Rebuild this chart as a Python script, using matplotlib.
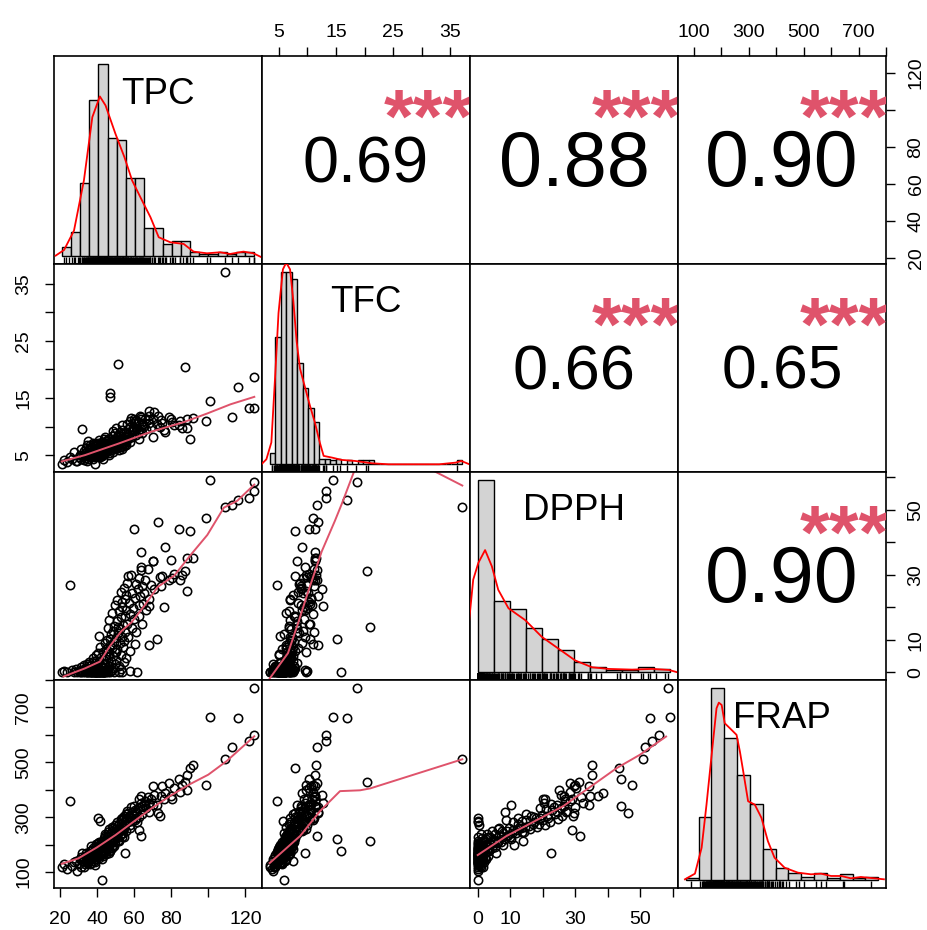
"""Correlation scatter-plot matrix of TPC, TFC, DPPH and FRAP (pairs-style layout)."""

import matplotlib

matplotlib.use("Agg")
import matplotlib.pyplot as plt
import numpy as np

NAMES = ["TPC", "TFC", "DPPH", "FRAP"]

TPC = [
    21.0, 22.5, 24.0, 25.5, 26.8, 27.5, 28.9, 29.5, 30.2, 30.8,
    31.5, 32.0, 32.4, 32.9, 33.3, 33.7, 34.0, 34.2, 34.6, 34.9,
    31.2, 33.0, 34.4, 35.1, 35.4, 35.6, 35.9, 36.2, 36.4, 36.7,
    36.9, 37.1, 37.3, 37.5, 37.8, 38.0, 38.2, 38.4, 38.6, 38.7,
    38.9, 39.1, 39.3, 39.5, 39.6, 39.8, 39.9, 35.3, 36.0, 36.6,
    37.6, 38.3, 39.0, 39.7, 37.0, 40.1, 40.2, 40.4, 40.5, 40.7,
    40.9, 41.0, 41.2, 41.3, 41.5, 41.6, 41.8, 42.0, 42.1, 42.3,
    42.5, 42.6, 42.8, 43.0, 43.1, 43.3, 43.4, 43.6, 43.8, 43.9,
    44.1, 44.2, 44.4, 44.6, 44.7, 44.9, 40.3, 41.9, 42.9, 43.7,
    44.5, 41.1, 43.2, 44.8, 45.1, 45.3, 45.5, 45.8, 46.0, 46.2,
    46.5, 46.7, 46.9, 47.0, 47.2, 47.4, 47.6, 47.9, 48.1, 48.3,
    48.6, 48.8, 49.0, 49.2, 49.5, 49.7, 49.9, 45.9, 46.4, 48.4,
    49.4, 50.1, 50.3, 50.6, 50.8, 51.0, 51.3, 51.5, 51.7, 51.9,
    52.2, 52.4, 52.7, 52.9, 53.1, 53.4, 53.6, 53.9, 54.1, 54.4,
    54.6, 54.9, 50.5, 52.0, 53.3, 54.7, 55.2, 55.5, 55.8, 56.1,
    56.4, 56.7, 57.0, 57.4, 57.7, 58.0, 58.5, 58.8, 59.1, 59.4,
    59.7, 55.9, 57.9, 60.2, 60.5, 60.9, 61.3, 61.7, 62.0, 62.4,
    62.7, 63.1, 63.5, 63.8, 64.2, 64.5, 64.9, 60.7, 62.9, 64.0,
    65.4, 66.0, 66.7, 67.3, 68.0, 68.3, 69.0, 71.0, 70.4, 70.4,
    72.4, 73.0, 73.8, 74.5, 67.8, 75.0, 76.3, 76.8, 79.0, 79.9,
    81.7, 84.3, 84.7, 87.5, 88.4, 88.4, 90.2, 91.6, 80.5, 86.0,
    99.0, 101.0, 109.0, 113.0, 116.0, 122.0, 124.8, 124.8, 53.5, 53.2,
    55.0,
]
TFC = [
    3.4, 4.1, 3.8, 4.6, 4.4, 5.6, 4.0, 3.9, 4.7, 5.1,
    4.3, 9.6, 4.9, 5.8, 4.5, 5.3, 6.2, 4.8, 5.5, 3.9,
    6.0, 4.2, 6.7, 5.0, 4.4, 6.1, 5.4, 4.7, 6.8, 5.2,
    5.9, 4.9, 6.4, 5.6, 7.2, 5.1, 6.0, 4.6, 5.7, 3.5,
    6.6, 5.3, 6.3, 5.0, 7.0, 5.8, 4.8, 7.5, 5.5, 6.4,
    4.3, 6.9, 5.6, 6.1, 5.0, 5.4, 6.3, 4.9, 7.1, 5.8,
    6.6, 5.1, 6.0, 7.6, 5.5, 6.2, 4.7, 6.8, 5.3, 6.5,
    5.9, 7.3, 5.0, 6.1, 6.9, 5.6, 4.4, 6.4, 7.8, 5.2,
    6.7, 5.8, 6.3, 5.4, 7.4, 6.0, 6.9, 5.7, 4.8, 6.6,
    8.2, 5.2, 6.2, 5.6, 6.4, 7.2, 5.7, 6.8, 6.1, 7.9,
    5.3, 6.9, 6.3, 15.8, 15.2, 7.4, 5.9, 6.6, 8.3, 6.2,
    7.0, 5.5, 6.7, 7.7, 6.0, 8.8, 6.4, 7.5, 5.0, 9.2,
    7.1, 7.3, 6.5, 8.1, 7.0, 6.2, 8.6, 20.9, 7.6, 6.8,
    9.0, 7.2, 6.4, 8.4, 7.8, 6.9, 9.4, 7.4, 8.0, 6.6,
    8.9, 7.7, 9.8, 5.9, 10.2, 7.1, 8.2, 9.1, 7.5, 10.4,
    8.7, 7.9, 9.6, 8.4, 10.9, 7.3, 11.5, 9.3, 8.1, 10.0,
    11.3, 6.8, 9.9, 9.4, 10.6, 8.6, 11.1, 9.8, 8.9, 10.8,
    9.2, 11.9, 11.3, 9.6, 10.2, 8.8, 10.5, 10.9, 7.9, 11.6,
    10.1, 11.4, 9.5, 11.2, 10.7, 11.8, 9.9, 12.6, 11.3, 8.1,
    10.4, 11.8, 10.0, 11.2, 12.8, 10.6, 9.4, 9.1, 11.7, 11.3,
    10.2, 10.3, 11.0, 20.5, 11.4, 9.7, 7.8, 11.5, 10.8, 9.8,
    11.0, 14.5, 37.1, 11.7, 17.0, 13.3, 13.3, 18.6, 6.0, 7.5,
    7.0,
]
DPPH = [
    0.0, 0.3, 0.0, 26.8, 0.6, 0.2, 1.1, 0.0, 0.4, 0.0,
    1.5, 0.8, 0.0, 2.1, 0.3, 0.0, 1.2, 0.6, 0.0, 2.6,
    0.0, 0.9, 0.1, 0.0, 1.8, 0.4, 3.1, 0.0, 0.7, 0.0,
    2.4, 0.2, 1.0, 0.0, 4.3, 0.5, 0.0, 1.7, 0.3, 0.0,
    2.9, 0.0, 0.8, 5.2, 0.1, 1.3, 0.0, 0.6, 0.0, 1.4,
    0.0, 3.6, 0.2, 0.0, 0.9, 0.0, 2.2, 0.4, 5.8, 0.0,
    1.1, 0.0, 3.4, 0.6, 0.0, 7.9, 0.2, 1.9, 0.0, 4.6,
    0.0, 0.3, 2.8, 0.0, 6.3, 0.5, 0.0, 3.9, 1.2, 0.0,
    9.1, 0.7, 2.5, 0.0, 5.1, 0.1, 0.0, 0.2, 1.6, 0.0,
    3.0, 11.2, 0.0, 7.2, 4.2, 9.8, 1.0, 13.5, 0.3, 6.7,
    2.0, 16.2, 8.4, 0.0, 10.1, 3.5, 11.9, 0.6, 7.6, 18.4,
    4.9, 1.4, 14.3, 9.3, 2.7, 20.6, 6.1, 0.0, 5.5, 12.8,
    0.2, 10.6, 3.8, 15.7, 22.4, 7.3, 12.1, 14.0, 1.9, 18.9,
    9.0, 13.3, 5.2, 24.8, 16.9, 11.0, 20.1, 7.8, 14.6, 3.1,
    26.1, 17.4, 6.4, 0.0, 21.7, 9.7, 12.4, 19.3, 23.9, 15.0,
    27.6, 29.6, 10.8, 21.2, 17.8, 6.5, 30.1, 24.5, 13.6, 19.9,
    44.2, 4.4, 0.5, 16.4, 22.9, 27.3, 12.5, 0.0, 25.8, 20.6,
    28.9, 23.6, 37.0, 32.3, 14.8, 26.7, 21.0, 8.6, 17.2, 31.5,
    24.3, 28.4, 19.1, 31.7, 22.6, 8.5, 27.0, 25.5, 34.3, 34.3,
    10.3, 46.3, 29.4, 26.5, 20.4, 29.6, 20.1, 38.5, 28.5, 34.5,
    30.4, 44.2, 28.5, 31.3, 35.3, 25.1, 43.4, 35.1, 29.0, 30.0,
    47.6, 59.3, 51.0, 51.5, 53.0, 53.7, 55.7, 58.5, 0.0, 1.0,
    22.7,
]
FRAP = [
    118, 128, 112, 358, 121, 135, 142, 105, 131, 146,
    120, 168, 139, 152, 128, 160, 143, 171, 134, 149,
    155, 117, 163, 150, 138, 166, 157, 144, 175, 132,
    169, 153, 181, 146, 188, 160, 139, 172, 155, 124,
    178, 164, 149, 192, 170, 158, 183, 141, 128, 195,
    162, 176, 136, 201, 167, 176, 189, 158, 205, 171,
    196, 152, 183, 211, 166, 199, 174, 187, 162, 208,
    70, 193, 178, 169, 215, 182, 157, 201, 224, 186,
    230, 173, 197, 191, 218, 165, 297, 285, 148, 207,
    239, 198, 180, 209, 203, 228, 186, 245, 192, 233,
    177, 257, 219, 176, 220, 206, 241, 189, 251, 266,
    214, 198, 247, 236, 221, 272, 209, 184, 168, 262,
    195, 244, 226, 268, 281, 232, 255, 213, 217, 274,
    249, 261, 238, 293, 277, 252, 289, 243, 266, 229,
    305, 283, 258, 214, 298, 262, 276, 296, 311, 289,
    322, 315, 281, 303, 298, 262, 336, 318, 287, 309,
    340, 248, 270, 304, 327, 318, 296, 283, 334, 368,
    255, 338, 376, 352, 311, 342, 329, 289, 301, 230,
    345, 358, 333, 372, 349, 320, 366, 381, 413, 346,
    346, 316, 306, 376, 352, 413, 368, 388, 425, 376,
    406, 439, 391, 430, 452, 398, 479, 492, 367, 418,
    419, 667, 511, 556, 661, 576, 598, 772, 227, 240,
    168,
]

# histogram breaks and relative bar heights (probability scale, arbitrary unit)
TPC_BREAKS = [20, 25, 30, 35, 40, 45, 50, 55, 60, 65, 70, 75, 80, 85, 90, 95, 100, 105, 110, 115, 120, 125]
TPC_BARS = [27, 72, 219, 469, 577, 355, 347, 234, 234, 84, 84, 37, 45, 45, 14, 7, 7, 14, 7, 14, 14]
TFC_BREAKS = [3, 4, 5, 6, 7, 8, 9, 10, 11, 12, 13, 14, 15, 16, 17, 18, 19, 20, 21, 22,
              23, 24, 25, 26, 27, 28, 29, 30, 31, 32, 33, 34, 35, 36, 37, 38]
TFC_BARS = [35, 380, 573, 573, 550, 300, 227, 167, 125, 17, 17, 13, 17, 0, 12, 0, 12, 12, 12, 0,
            0, 0, 0, 0, 0, 0, 0, 0, 0, 0, 0, 0, 0, 0, 13]
DPPH_BREAKS = [0, 5, 10, 15, 20, 25, 30, 35, 40, 45, 50, 55, 60]
DPPH_BARS = [572, 213, 187, 133, 100, 65, 32, 15, 8, 8, 17, 11]
FRAP_BREAKS = [50, 100, 150, 200, 250, 300, 350, 400, 450, 500, 550, 600, 650, 700, 750, 800]
FRAP_BARS = [8, 191, 580, 428, 316, 230, 93, 38, 23, 10, 23, 8, 18, 8, 10]

# kernel density curves, same height unit as the bars
TPC_DENS_X = [16.7, 21.3, 26.7, 32.1, 36.7, 40.8, 43.9, 49.3, 54.2, 58.4, 62.9, 68.4, 72.9, 79.2,
              86.5, 91.9, 99.2, 106.4, 111.8, 119.1, 124.5, 129.0]
TPC_DENS_Y = [2, 19, 77, 227, 417, 479, 452, 367, 297, 227, 177, 117, 57, 42, 37, 14, 9, 12, 7, 14, 9, -3]
TFC_DENS_X = [1.5, 2.4, 3.3, 4.0, 4.6, 5.4, 6.0, 6.7, 7.3, 7.9, 8.5, 9.4, 10.3, 11.2, 12.1, 12.8,
              14.3, 16.1, 18.5, 21.6, 24.6, 33.8, 36.8, 37.8, 39.3]
TFC_DENS_Y = [0, 15, 65, 265, 450, 580, 600, 580, 485, 365, 285, 230, 175, 125, 65, 25,
              20, 13, 10, 3, 0, 0, 5, 10, 0]
DPPH_DENS_X = [-2.7, -1.4, 0.2, 2.3, 4.4, 6.4, 9.6, 14.8, 20.0, 25.2, 30.4, 35.6, 40.8, 48.1, 54.4, 59.6, 62.2]
DPPH_DENS_Y = [150, 275, 325, 363, 315, 245, 190, 155, 105, 70, 35, 15, 10, 8, 10, 7, 0]
FRAP_DENS_X = [47, 86, 112, 131, 151, 170, 179, 190, 202, 222, 248, 261, 274, 293, 319, 345, 370,
               396, 435, 487, 538, 577, 616, 655, 693, 732, 784, 822]
FRAP_DENS_Y = [3, 20, 98, 228, 378, 518, 535, 528, 473, 458, 438, 388, 328, 238, 228, 188, 118,
               68, 38, 23, 18, 20, 13, 13, 6, 10, 6, 3]

# smoothed (lowess) lines in the lower panels
SMOOTH_TPC_TFC_X = [21, 33.5, 51.4, 69.2, 87, 99.5, 112, 124.8]
SMOOTH_TPC_TFC_Y = [3.9, 5.0, 7.0, 9.1, 10.8, 12.3, 13.9, 15.2]
SMOOTH_TPC_DPPH_X = [22, 33.5, 41.6, 46.9, 53.2, 58.5, 65.6, 72.8, 81.7, 90.6, 99.5, 108.4, 115.6, 124.8]
SMOOTH_TPC_DPPH_Y = [-1.3, 1.2, 3.3, 8.0, 12.7, 15.3, 20.5, 26.3, 29.8, 36.2, 42.3, 50.7, 52.8, 57.8]
SMOOTH_TFC_DPPH_X = [3.4, 6.6, 8.4, 10.1, 12.5, 14.8, 16.0, 18.2, 20.7, 21.0, 37.1]
SMOOTH_TFC_DPPH_Y = [-1.9, 5.9, 15.3, 24.7, 37.2, 46.6, 51.8, 62.0, 70.0, 72.0, 57.5]
SMOOTH_TPC_FRAP_X = [21, 30, 40, 50, 60, 70, 80, 90, 100, 110, 124.8]
SMOOTH_TPC_FRAP_Y = [130, 150, 190, 235, 285, 335, 380, 420, 455, 505, 595]
SMOOTH_TFC_FRAP_X = [3.4, 8.7, 12.2, 15.7, 19.2, 21.0, 37.1]
SMOOTH_TFC_FRAP_Y = [133, 231, 322, 395, 398, 405, 511]
SMOOTH_DPPH_FRAP_X = [0, 8.8, 26.3, 42.8, 50.0, 58.0]
SMOOTH_DPPH_FRAP_Y = [162, 231, 340, 479, 528, 594]

# upper panels: correlation coefficient and significance
CORR_CELLS = [(0, 1), (0, 2), (0, 3), (1, 2), (1, 3), (2, 3)]
CORR_VALUES = [0.69, 0.88, 0.90, 0.66, 0.65, 0.90]
CORR_STARS = ["***", "***", "***", "***", "***", "***"]

TPC_TICKS = [20, 40, 60, 80, 100, 120]
TPC_LABELS = ["20", "40", "60", "80", "", "120"]
TFC_TICKS = [5, 10, 15, 20, 25, 30, 35]
TFC_LABELS = ["5", "", "15", "", "25", "", "35"]
DPPH_TICKS = [0, 10, 20, 30, 40, 50, 60]
DPPH_LABELS = ["0", "10", "", "30", "", "50", ""]
FRAP_TICKS = [100, 200, 300, 400, 500, 600, 700, 800]
FRAP_LABELS = ["100", "", "300", "", "500", "", "700", ""]

FIG_W, FIG_H = 927, 930
LEFT, TOP, CELL = 54, 56, 208
PINK = "#DF536B"
FONT = ["Liberation Sans", "DejaVu Sans"]


def padded(values):
    lo, hi = min(values), max(values)
    pad = 0.04 * (hi - lo)
    return lo - pad, hi + pad


def cell_rect(row, col):
    return [(LEFT + col * CELL) / FIG_W, 1 - (TOP + (row + 1) * CELL) / FIG_H, CELL / FIG_W, CELL / FIG_H]


def add_axis(ax, side, ticks, labels):
    kw = dict(direction="out", length=6.5, width=1.0, labelsize=14, colors="black")
    if side in ("top", "bottom"):
        ax.set_xticks(ticks, labels)
        ax.tick_params(axis="x", top=side == "top", bottom=side == "bottom",
                       labeltop=side == "top", labelbottom=side == "bottom",
                       pad=4 if side == "top" else 10, **kw)
    else:
        ax.set_yticks(ticks, labels)
        ax.tick_params(axis="y", left=side == "left", right=side == "right",
                       labelleft=side == "left", labelright=side == "right",
                       labelrotation=90, pad=9, **kw)
        for lab in ax.get_yticklabels():
            lab.set_va("center")


def main():
    plt.rcParams["font.family"] = FONT
    data = [TPC, TFC, DPPH, FRAP]
    limits = [padded(v) for v in data]
    hists = [(TPC_BREAKS, TPC_BARS, TPC_DENS_X, TPC_DENS_Y),
             (TFC_BREAKS, TFC_BARS, TFC_DENS_X, TFC_DENS_Y),
             (DPPH_BREAKS, DPPH_BARS, DPPH_DENS_X, DPPH_DENS_Y),
             (FRAP_BREAKS, FRAP_BARS, FRAP_DENS_X, FRAP_DENS_Y)]
    smooths = {(1, 0): (SMOOTH_TPC_TFC_X, SMOOTH_TPC_TFC_Y),
               (2, 0): (SMOOTH_TPC_DPPH_X, SMOOTH_TPC_DPPH_Y),
               (2, 1): (SMOOTH_TFC_DPPH_X, SMOOTH_TFC_DPPH_Y),
               (3, 0): (SMOOTH_TPC_FRAP_X, SMOOTH_TPC_FRAP_Y),
               (3, 1): (SMOOTH_TFC_FRAP_X, SMOOTH_TFC_FRAP_Y),
               (3, 2): (SMOOTH_DPPH_FRAP_X, SMOOTH_DPPH_FRAP_Y)}
    corr = dict(zip(CORR_CELLS, zip(CORR_VALUES, CORR_STARS)))
    ticks = [(TPC_TICKS, TPC_LABELS), (TFC_TICKS, TFC_LABELS), (DPPH_TICKS, DPPH_LABELS), (FRAP_TICKS, FRAP_LABELS)]

    fig = plt.figure(figsize=(FIG_W / 100, FIG_H / 100), dpi=100)
    for row in range(4):
        for col in range(4):
            ax = fig.add_axes(cell_rect(row, col))
            ax.set_xlim(limits[col])
            ax.set_ylim(limits[row])
            ax.set_xticks([])
            ax.set_yticks([])
            for spine in ax.spines.values():
                spine.set_linewidth(1.2)
            if row > col:
                ax.plot(data[col], data[row], "o", mfc="none", mec="black", ms=6.0, mew=1.15)
                sx, sy = smooths[(row, col)]
                ax.plot(sx, sy, color=PINK, lw=1.4)
            elif row < col:
                r, stars = corr[(row, col)]
                size = 61.5 * (abs(r) + 0.3) / 1.3
                ax.text(0.5, 0.475, f"{r:.2f}", transform=ax.transAxes, ha="center", va="center",
                        fontsize=size)
                ax.text(0.8, 0.68, stars, transform=ax.transAxes, ha="center", va="center",
                        fontsize=55, fontweight="bold", color=PINK, clip_on=True)
            else:
                breaks, bars, dx, dy = hists[row]
                hax = fig.add_axes(cell_rect(row, col), frameon=False)
                span = breaks[-1] - breaks[0]
                hax.set_xlim(breaks[0] - 0.04 * span, breaks[-1] + 0.04 * span)
                top = max(bars)
                hax.set_ylim(-0.04 * top, 1.04 * top)
                hax.set_xticks([])
                hax.set_yticks([])
                widths = np.diff(breaks)
                hax.bar(breaks[:-1], bars, width=widths, align="edge", color="#D3D3D3",
                        edgecolor="black", linewidth=1.0)
                hax.plot(dx, dy, color="red", lw=1.3)
                hax.vlines(data[row], 0, 0.035, transform=hax.get_xaxis_transform(), color="black", lw=1.0)
                hax.text(0.5, 0.815, NAMES[row], transform=hax.transAxes, ha="center", va="center",
                         fontsize=26.5)
            # outer axes alternate sides as in pairs()
            if row == 0 and col % 2 == 1:
                add_axis(ax, "top", *ticks[col])
            if row == 3 and col % 2 == 0:
                add_axis(ax, "bottom", *ticks[col])
            if col == 0 and row % 2 == 1:
                add_axis(ax, "left", *ticks[row])
            if col == 3 and row % 2 == 0:
                add_axis(ax, "right", *ticks[row])

    fig.savefig("out.png", dpi=100)
    plt.close(fig)


if __name__ == "__main__":
    main()
